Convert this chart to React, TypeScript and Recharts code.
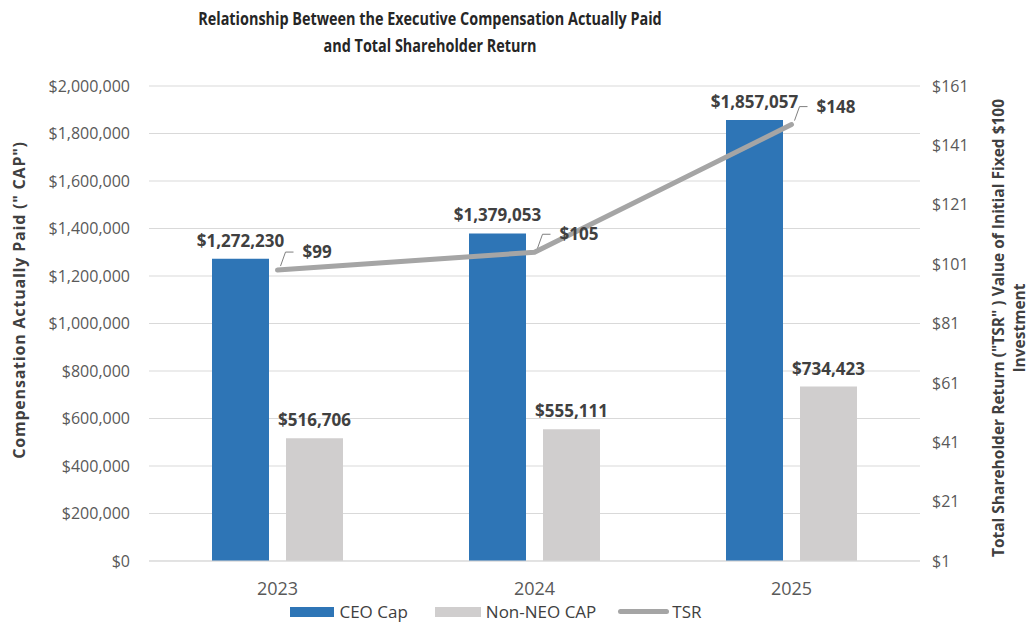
import React from 'react';
import {
  ComposedChart,
  Bar,
  Line,
  XAxis,
  YAxis,
  CartesianGrid,
  LabelList,
} from 'recharts';

const years = ['2023', '2024', '2025'];
const ceoCap = [1272230, 1379053, 1857057];
const nonNeoCap = [516706, 555111, 734423];
const tsr = [99, 105, 148];

const leftTicks = [0, 200000, 400000, 600000, 800000, 1000000, 1200000, 1400000, 1600000, 1800000, 2000000];
const rightTicks = [1, 21, 41, 61, 81, 101, 121, 141, 161];

const data = years.map((year, i) => ({
  year,
  ceo: ceoCap[i],
  nonNeo: nonNeoCap[i],
  tsr: tsr[i],
}));

const BLUE = '#2E75B6';
const LIGHT = '#D0CECE';
const TSR_GRAY = '#A5A5A5';
const TEXT = '#404040';
const TICK = '#595959';
const FONT = '"Open Sans", "Noto Sans", sans-serif';

const money = (v: number) => '$' + v.toLocaleString('en-US');

// label with a little leader line, like Excel's moved data labels
const TsrLabel = (props: any) => {
  const { x, y, value } = props;
  const x1 = x + 3;
  const y1 = y - 4;
  const x2 = x + 8;
  const y2 = y - 18;
  const x3 = x + 16;
  return (
    <g>
      <polyline
        points={`${x1},${y1} ${x2},${y2} ${x3},${y2}`}
        fill="none"
        stroke="#7f7f7f"
        strokeWidth={1}
      />
      <text
        x={x3 + 9}
        y={y2}
        dy="0.35em"
        fill={TEXT}
        fontFamily={FONT}
        fontWeight={700}
        fontSize={17}
      >
        {'$' + value}
      </text>
    </g>
  );
};

const legendItems = [
  { label: 'CEO Cap', color: BLUE, w: 44, h: 10, gap: 27 },
  { label: 'Non-NEO CAP', color: LIGHT, w: 46, h: 10, gap: 22 },
  { label: 'TSR', color: TSR_GRAY, w: 51, h: 5, gap: 0 },
];

const labelStyle = { fontSize: 17, fontWeight: 700, fill: TEXT, fontFamily: FONT };

export default function App() {
  return (
    <div
      style={{
        position: 'absolute',
        left: 0,
        top: 0,
        width: 1030,
        height: 626,
        background: '#fff',
        fontFamily: FONT,
      }}
    >
      <div
        style={{
          position: 'absolute',
          left: 0,
          width: 860,
          top: 5,
          textAlign: 'center',
          fontWeight: 700,
          fontSize: 18,
          lineHeight: '27px',
          color: '#262626',
          transform: 'scaleX(0.8)',
          transformOrigin: '430px 0',
        }}
      >
        Relationship Between the Executive Compensation Actually Paid
        <br />
        and Total Shareholder Return
      </div>

      <div
        style={{
          position: 'absolute',
          left: 19,
          top: 300,
          transform: 'translate(-50%, -50%) rotate(-90deg)',
          whiteSpace: 'nowrap',
          fontWeight: 700,
          fontSize: 16,
          letterSpacing: 0.8,
          color: TEXT,
        }}
      >
        Compensation Actually Paid (" CAP")
      </div>

      <div
        style={{
          position: 'absolute',
          left: 1009,
          top: 328,
          transform: 'translate(-50%, -50%) rotate(-90deg)',
          whiteSpace: 'nowrap',
          textAlign: 'center',
          fontWeight: 700,
          fontSize: 15.5,
          lineHeight: '21px',
          color: TEXT,
        }}
      >
        Total Shareholder Return ("TSR" ) Value of Initial Fixed $100
        <br />
        Investment
      </div>

      <ComposedChart
        width={1030}
        height={626}
        data={data}
        margin={{ top: 86, right: 50, bottom: 35, left: 49 }}
        barGap={17}
        style={{ position: 'absolute', left: 0, top: 0 }}
      >
        <CartesianGrid horizontal vertical={false} stroke="#D9D9D9" yAxisId="left" />
        <XAxis
          dataKey="year"
          height={30}
          tickLine={false}
          tickSize={0}
          tickMargin={21}
          axisLine={{ stroke: '#D9D9D9' }}
          tick={{ fontSize: 18, fill: TICK, fontFamily: FONT }}
        />
        <YAxis
          yAxisId="left"
          width={100}
          domain={[0, 2000000]}
          ticks={leftTicks}
          tickFormatter={money}
          tickLine={false}
          axisLine={false}
          tickSize={0}
          tickMargin={19}
          tick={{ fontSize: 16, fill: TICK, fontFamily: FONT }}
        />
        <YAxis
          yAxisId="right"
          orientation="right"
          width={60}
          domain={[1, 161]}
          ticks={rightTicks}
          tickFormatter={(v) => '$' + v}
          tickLine={false}
          axisLine={false}
          tickSize={0}
          tickMargin={12}
          tick={{ fontSize: 16, fill: TICK, fontFamily: FONT }}
        />
        <Bar yAxisId="left" dataKey="ceo" name="CEO Cap" fill={BLUE} barSize={57} isAnimationActive={false}>
          <LabelList
            dataKey="ceo"
            position="top"
            offset={12}
            formatter={(v: any) => money(v)}
            style={labelStyle}
          />
        </Bar>
        <Bar yAxisId="left" dataKey="nonNeo" name="Non-NEO CAP" fill={LIGHT} barSize={57} isAnimationActive={false}>
          <LabelList
            dataKey="nonNeo"
            position="top"
            offset={12}
            formatter={(v: any) => money(v)}
            style={labelStyle}
          />
        </Bar>
        <Line
          yAxisId="right"
          dataKey="tsr"
          name="TSR"
          stroke={TSR_GRAY}
          strokeWidth={5}
          strokeLinecap="round"
          dot={false}
          activeDot={false}
          isAnimationActive={false}
        >
          <LabelList dataKey="tsr" content={<TsrLabel />} />
        </Line>
      </ComposedChart>

      <div
        style={{
          position: 'absolute',
          left: 0,
          width: 992,
          top: 600,
          display: 'flex',
          justifyContent: 'center',
          alignItems: 'center',
          fontSize: 17,
          color: TEXT,
        }}
      >
        {legendItems.map((it) => (
          <React.Fragment key={it.label}>
            <span
              style={{
                width: it.w,
                height: it.h,
                background: it.color,
                borderRadius: it.h < 10 ? 3 : 0,
                marginRight: it.h < 10 ? 3 : 5,
              }}
            />
            <span style={{ marginRight: it.gap }}>{it.label}</span>
          </React.Fragment>
        ))}
      </div>
    </div>
  );
}
